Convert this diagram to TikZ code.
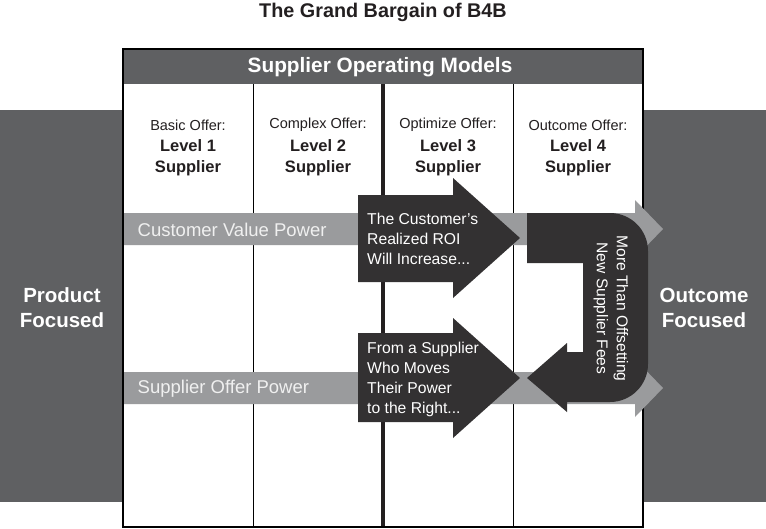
\documentclass[tikz,border=0pt]{standalone}
\usepackage{fontspec}
\setmainfont{Liberation Sans}
\definecolor{panelgray}{HTML}{5F6062}
\definecolor{bandgray}{HTML}{9A9B9D}
\definecolor{darkarrow}{HTML}{333132}
\definecolor{titlecol}{HTML}{231F20}
\begin{document}
\begin{tikzpicture}[x=1pt,y=-1pt,
  panel/.style={fill=panelgray},
  bandarrow/.style={fill=bandgray},
  blackarrow/.style={fill=darkarrow},
  colhead/.style={font=\fontsize{14.5}{17}\selectfont, text=titlecol, inner sep=0pt},
  levelhead/.style={font=\fontsize{16.5}{21}\selectfont\bfseries, text=titlecol, align=center, inner sep=0pt},
  sidetext/.style={font=\fontsize{20.5}{25}\selectfont\bfseries, text=white, align=center, inner sep=0pt},
  bandtext/.style={font=\fontsize{18.5}{22}\selectfont, text=white!94!black, anchor=west, inner sep=0pt},
  arrowtext/.style={font=\fontsize{15.7}{20}\selectfont, text=white, align=left, anchor=west, inner sep=0pt},
  divider/.style={line width=1pt, draw=black},
  thickdivider/.style={line width=3.3pt, draw=titlecol}
]
\useasboundingbox (0,0) rectangle (766,528);
% side panels
\fill[panel] (0,110) rectangle (123,502);
\fill[panel] (643,110) rectangle (766,502);
% main box
\fill[white] (123,49) rectangle (643,527);
\fill[panel] (123,49) rectangle (643,84);
\draw[divider] (253,84) -- (253,527);
\draw[divider] (513,84) -- (513,527);
\draw[thickdivider] (383,84) -- (383,527);
\draw[line width=1.2pt] (123,49) rectangle (643,527);
% title and header
\node[font=\fontsize{19.8}{22}\selectfont\bfseries, text=titlecol] (title) at (383,12) {The Grand Bargain of B4B};
\node[font=\fontsize{20.8}{24}\selectfont\bfseries, text=white] (header) at (380,67) {Supplier Operating Models};
% column heads
\node[colhead] (c1) at (188,125) {Basic Offer:};
\node[colhead] (c2) at (318,125) {Complex Offer:};
\node[colhead] (c3) at (448,125) {Optimize Offer:};
\node[colhead] (c4) at (578,125) {Outcome Offer:};
\node[levelhead] (l1) at (188,157.5) {Level 1\\Supplier};
\node[levelhead] (l2) at (318,157.5) {Level 2\\Supplier};
\node[levelhead] (l3) at (448,157.5) {Level 3\\Supplier};
\node[levelhead] (l4) at (578,157.5) {Level 4\\Supplier};
% side texts
\node[sidetext] (prod) at (62,307.5) {Product\\Focused};
\node[sidetext] (outc) at (704,307.5) {Outcome\\Focused};
% gray band arrows
\fill[bandarrow] (124,213) -- (635,213) -- (635,200) -- (663,229) -- (635,258) -- (635,245) -- (124,245) -- cycle;
\fill[bandarrow] (124,372) -- (635,372) -- (635,359) -- (663,388) -- (635,417) -- (635,404) -- (124,404) -- cycle;
\node[bandtext] (cvp) at (137.5,229.5) {Customer Value Power};
\node[bandtext] (sop) at (137.5,388.5) {Supplier Offer Power};
% black arrows
\fill[blackarrow] (358,195) -- (453,195) -- (453,178) -- (520,238) -- (453,298) -- (453,282) -- (358,282) -- cycle;
\fill[blackarrow] (358,333) -- (453,333) -- (453,318) -- (520,378) -- (453,438) -- (453,422) -- (358,422) -- cycle;
\node[arrowtext] (t1) at (367,238.5) {The Customer’s\\Realized ROI\\Will Increase...};
\node[arrowtext] (t2) at (367,379) {From a Supplier\\Who Moves\\Their Power\\to the Right...};
% U-turn arrow
\fill[blackarrow] (527,213) -- (610,213) arc[start angle=-90, end angle=0, radius=38]
  -- (648,364) arc[start angle=0, end angle=90, radius=38]
  -- (567,402) -- (567,412) -- (527,378) -- (567,343) -- (567,352) -- (583,352) -- (583,263) -- (527,263) -- cycle;
\node[font=\fontsize{15.6}{20}\selectfont, text=white, align=center, rotate=-90, inner sep=0pt] (ut) at (611,308.5) {More Than Offsetting\\New Supplier Fees};
\end{tikzpicture}
\end{document}
